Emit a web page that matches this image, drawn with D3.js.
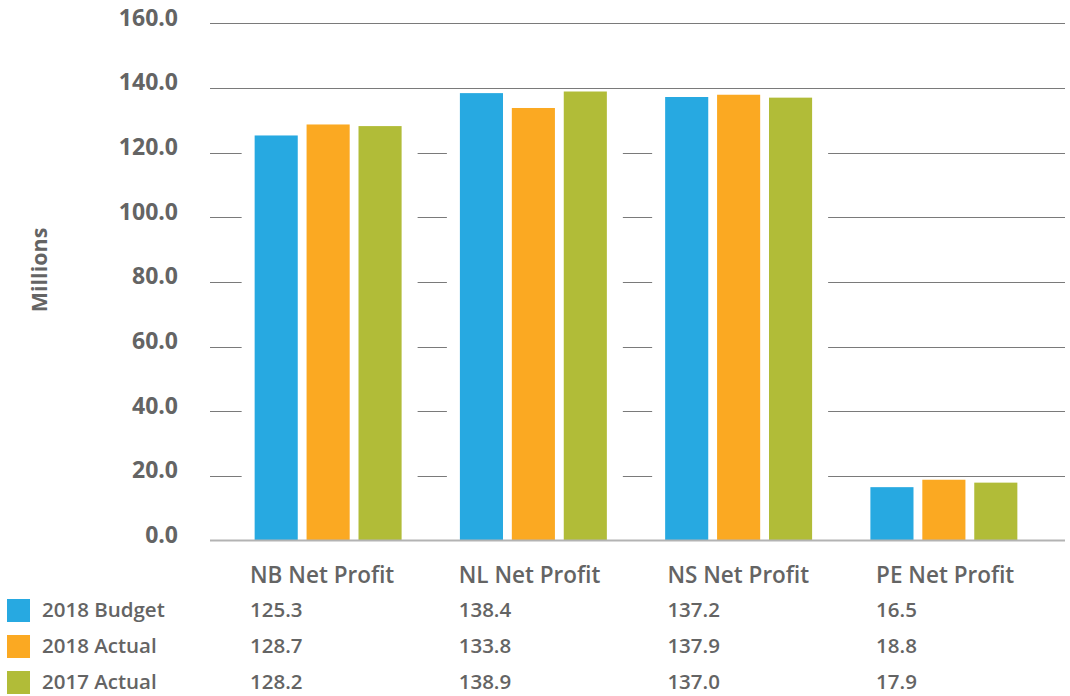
<!DOCTYPE html>
<html><head><meta charset="utf-8">
<script src="https://cdn.jsdelivr.net/npm/d3@7"></script>
<style>
html,body{margin:0;padding:0;background:#fff;}
svg{display:block;font-family:"Open Sans",sans-serif;}
</style></head>
<body><svg id="c" width="1070" height="696"></svg>
<script>
const categories = ["NB Net Profit","NL Net Profit","NS Net Profit","PE Net Profit"];
const seriesNames = ["2018 Budget","2018 Actual","2017 Actual"];
const budget2018 = [125.3,138.4,137.2,16.5];
const actual2018 = [128.7,133.8,137.9,18.8];
const actual2017 = [128.2,138.9,137.0,17.9];
const yTicks = [0,20,40,60,80,100,120,140,160];
const colors = ["#27a9e1","#fba922","#b1bc38"];
const series = [budget2018, actual2018, actual2017];

const svg = d3.select("#c");
const textColor = "#646464";
const y = d3.scaleLinear().domain([0,160]).range([540.5,23.3]);
const x0 = d3.scaleBand().domain(categories).range([225.5,1046.5]).paddingInner(0.284).paddingOuter(0.142);
const x1 = d3.scaleBand().domain(seriesNames).range([0,x0.bandwidth()]).paddingInner(0.17);
const plotL = 210, plotR = 1065;

// gridlines
svg.append("g").selectAll("line").data(yTicks.filter(d=>d>0)).join("line")
  .attr("x1",plotL).attr("x2",plotR)
  .attr("y1",d=>Math.round(y(d))+0.5).attr("y2",d=>Math.round(y(d))+0.5)
  .attr("stroke","#7a7a7a").attr("stroke-width",1);

// white halos behind bars (gridline gaps)
const rows = [];
categories.forEach((c,ci)=>{
  seriesNames.forEach((s,si)=>rows.push({c,s,si,v:series[si][ci]}));
});
svg.append("g").selectAll("rect").data(rows).join("rect")
  .attr("x",d=>x0(d.c)+x1(d.s)-13)
  .attr("width",x1.bandwidth()+29)
  .attr("y",d=>y(d.v)).attr("height",d=>y(0)-y(d.v))
  .attr("fill","#fff");

// bars
svg.append("g").selectAll("rect").data(rows).join("rect")
  .attr("x",d=>x0(d.c)+x1(d.s))
  .attr("width",x1.bandwidth())
  .attr("y",d=>y(d.v)).attr("height",d=>y(0)-y(d.v))
  .attr("fill",d=>colors[d.si]);

// baseline
svg.append("line").attr("x1",plotL).attr("x2",plotR)
  .attr("y1",y(0)).attr("y2",y(0)).attr("stroke","#b3b3b3").attr("stroke-width",2);

// y labels
const yAxis = d3.axisLeft(y).tickValues(yTicks).tickFormat(d3.format(".1f")).tickSize(0).tickPadding(0);
const ga = svg.append("g").attr("transform","translate(178,0)").call(yAxis);
ga.select(".domain").remove();
ga.selectAll("text").attr("fill",textColor).attr("font-size","23px").attr("font-weight","700")
  .attr("font-family","'Open Sans',sans-serif").attr("dy","0.08em");

// axis title
svg.append("text").attr("transform","translate(47,270) rotate(-90)")
  .attr("text-anchor","middle").attr("fill",textColor).attr("font-size","21.5px").attr("font-weight","700")
  .text("Millions");

// data table
const xt = d3.scaleBand().domain(categories).range([250,250+4*208.7]);
const tableG = svg.append("g").attr("fill",textColor).attr("font-weight","600");
tableG.selectAll("text.hdr").data(categories).join("text").attr("class","hdr")
  .attr("x",d=>xt(d)).attr("y",583).attr("font-size","22.5px").text(d=>d);

const rowY = [617,653,689];
seriesNames.forEach((s,si)=>{
  svg.append("rect").attr("x",7).attr("y",rowY[si]-18).attr("width",23).attr("height",23).attr("fill",colors[si]);
  tableG.append("text").attr("x",42).attr("y",rowY[si]).attr("font-size","20.5px").text(s);
  tableG.selectAll("text.v"+si).data(categories).join("text").attr("class","v"+si)
    .attr("x",d=>xt(d)).attr("y",rowY[si]).attr("font-size","20.5px")
    .text((d,ci)=>d3.format(".1f")(series[si][ci]));
});
</script></body></html>
